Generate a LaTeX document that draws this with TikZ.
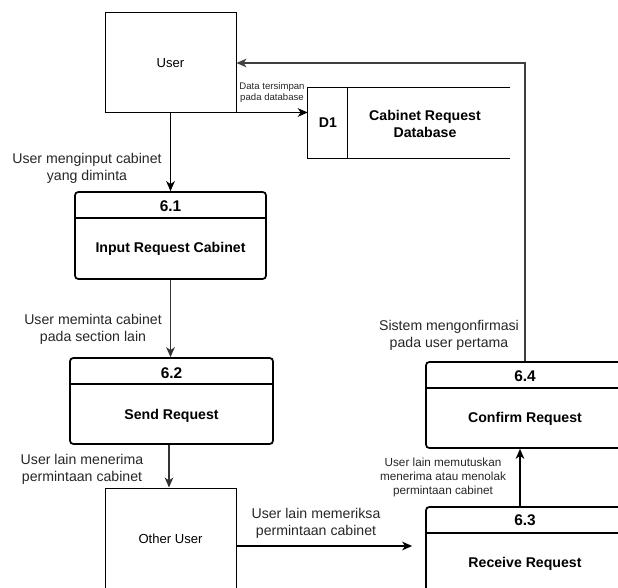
\documentclass[tikz,border=0pt]{standalone}
\usepackage{fontspec}
\setmainfont{Liberation Sans}
\usetikzlibrary{arrows.meta,calc}
\begin{document}
\begin{tikzpicture}[x=0.75pt,y=-0.75pt,
  entity/.style={draw, line width=0.75pt, rectangle, inner sep=0pt,
    minimum width=98.25pt, font=\fontsize{9.8}{12}\selectfont},
  proc/.style={draw, line width=1.3pt, rounded corners=2.5pt, inner sep=0pt},
  ptitle/.style={font=\fontsize{11.6}{13}\selectfont\bfseries, inner sep=0pt},
  pbody/.style={font=\fontsize{10.6}{12.75}\selectfont\bfseries, inner sep=0pt, align=center},
  flow/.style={draw, line width=0.95pt, -{Stealth[length=7.5pt,width=6.5pt,inset=2.2pt]}},
  lbl/.style={align=center, font=\fontsize{10.6}{12.75}\selectfont, text=black!85, inner sep=0pt},
  slbl/.style={align=center, font=\fontsize{8.8}{10.5}\selectfont, text=black!85, inner sep=0pt},
  tlbl/.style={align=center, font=\fontsize{7.2}{8.25}\selectfont, text=black!85, inner sep=0pt},
]
\useasboundingbox (0,0) rectangle (618,588);
\clip (0,0) rectangle (618,588);

% external entities
\node[entity, minimum height=75pt] (user) at (170.5,63) {User};
\node[entity, minimum height=76.5pt] (other) at (170.5,539) {Other User};

% data store D1
\node[inner sep=0pt, minimum width=151.5pt, minimum height=52.5pt] (d1) at (409,123) {};
\draw[line width=0.8pt] (d1.north east) -- (d1.north west) -- (d1.south west) -- (d1.south east);
\draw[line width=0.8pt] ($(d1.north west)+(40,0)$) -- ($(d1.south west)+(40,0)$);
\node[pbody] (d1id) at (328,123) {D1};
\node[pbody] (d1name) at (425,123.5) {Cabinet Request\\Database};

% process 6.1
\node[proc, minimum width=143.25pt, minimum height=65.25pt] (p61) at (170.5,235.5) {};
\draw[line width=1pt] ($(p61.north west)+(0,27)$) -- ($(p61.north east)+(0,27)$);
\node[ptitle] (p61t) at (170.5,206) {6.1};
\node[pbody] (p61b) at (170.5,249) {Input Request Cabinet};

% process 6.2
\node[proc, minimum width=152.25pt, minimum height=64.5pt] (p62) at (171.5,401) {};
\draw[line width=1pt] ($(p62.north west)+(0,27)$) -- ($(p62.north east)+(0,27)$);
\node[ptitle] (p62t) at (171.5,373) {6.2};
\node[pbody] (p62b) at (171.5,416) {Send Request};

% process 6.4
\node[proc, minimum width=148.5pt, minimum height=64.5pt] (p64) at (525,405) {};
\draw[line width=1pt] ($(p64.north west)+(0,27)$) -- ($(p64.north east)+(0,27)$);
\node[ptitle] (p64t) at (525,376) {6.4};
\node[pbody] (p64b) at (525,419) {Confirm Request};

% process 6.3
\node[proc, minimum width=148.5pt, minimum height=66pt] (p63) at (525,551) {};
\draw[line width=1pt] ($(p63.north west)+(0,27)$) -- ($(p63.north east)+(0,27)$);
\node[ptitle] (p63t) at (525,520) {6.3};
\node[pbody] (p63b) at (525,564) {Receive Request};

% data flows
\coordinate (ud) at ($(user.south east)+(0,-1)$);
\draw[flow] (ud) -- (d1.west |- ud);
\node[tlbl] (lud) at (272,92.5) {Data tersimpan\\pada database};

\draw[flow] (user.south) -- (p61.north);
\node[lbl] (lu1) at (87,168.5) {User menginput cabinet\\yang diminta};

\draw[flow, draw=black!80] (p61.south) -- (p62.north -| p61.south);
\node[lbl] (l12) at (93,329) {User meminta cabinet\\pada section lain};

\draw[flow, draw=black!80] ($(p62.south)+(-2.5,0)$) -- ($(other.north)+(-1.5,0)$);
\node[lbl] (l2o) at (82,469.5) {User lain menerima\\permintaan cabinet};

\coordinate (oe) at ($(other.east)+(0,7)$);
\draw[flow, shorten >=9.75pt] (oe) -- (p63.west |- oe);
\node[lbl] (lo3) at (316,523.5) {User lain memeriksa\\permintaan cabinet};

\draw[flow] ($(p63.north)+(-5,0)$) -- ($(p64.south)+(-5,0)$);
\node[slbl] (l34) at (443,477) {User lain memutuskan\\menerima atau menolak\\permintaan cabinet};

\draw[flow, draw=black!75] (p64.north) |- (user.east);
\node[lbl] (l4u) at (449,335.5) {Sistem mengonfirmasi\\pada user pertama};
\end{tikzpicture}
\end{document}
